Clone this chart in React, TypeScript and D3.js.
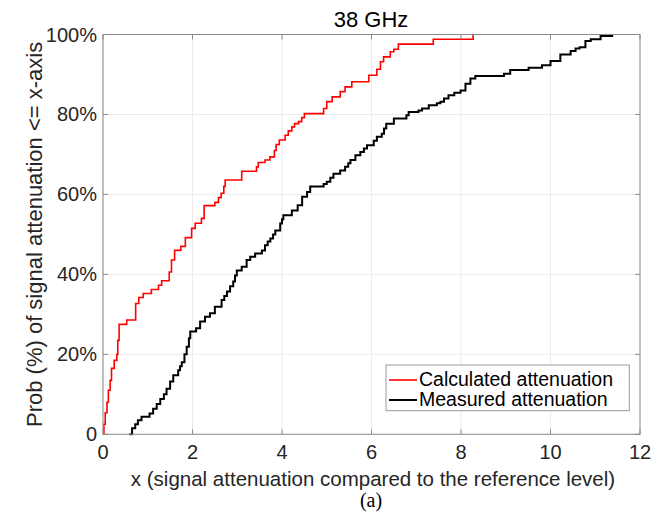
import React from "react";
import * as d3 from "d3";

const calcX = [0, 0.02, 0.05, 0.09, 0.12, 0.16, 0.19, 0.25, 0.31, 0.33, 0.36, 0.53, 0.73, 0.8, 0.9, 1.08, 1.24, 1.31, 1.48, 1.53, 1.6, 1.74, 1.84, 1.98, 2.06, 2.2, 2.26, 2.5, 2.58, 2.64, 2.7, 2.73, 3.1, 3.43, 3.47, 3.62, 3.73, 3.83, 3.87, 3.94, 4.07, 4.14, 4.22, 4.28, 4.37, 4.44, 4.5, 4.93, 5.0, 5.12, 5.3, 5.41, 5.56, 5.94, 6.12, 6.2, 6.27, 6.42, 6.5, 6.6, 7.38, 8.27];
const calcY = [0, 2.5, 5.4, 8, 11, 13.5, 16.5, 18.5, 20, 23.5, 27.5, 28.6, 32.7, 34.2, 35.2, 36.2, 37.3, 38.4, 40.6, 43.6, 46, 47, 49.2, 51.5, 52.8, 54, 57.2, 58, 59.2, 60.3, 62, 63.6, 65.8, 66.9, 68, 68.6, 69.4, 71, 72.5, 73.6, 74.8, 75.9, 76.9, 77.7, 78.2, 79.2, 80.2, 81.5, 83.2, 84.4, 85.7, 86.9, 88.2, 89.8, 91.3, 93.2, 94.4, 95.7, 96.3, 97.6, 98.8, 100];

const measX = [0.59, 0.65, 0.72, 0.78, 0.86, 1.04, 1.12, 1.2, 1.28, 1.36, 1.42, 1.5, 1.57, 1.68, 1.72, 1.76, 1.82, 1.87, 1.92, 1.95, 2.08, 2.17, 2.28, 2.39, 2.5, 2.65, 2.71, 2.77, 2.84, 2.91, 2.95, 2.99, 3.1, 3.21, 3.29, 3.4, 3.55, 3.62, 3.68, 3.74, 3.8, 3.85, 3.96, 4.0, 4.03, 4.22, 4.35, 4.45, 4.56, 4.63, 4.93, 5.0, 5.08, 5.15, 5.3, 5.41, 5.48, 5.53, 5.64, 5.75, 5.83, 5.9, 6.05, 6.12, 6.23, 6.28, 6.33, 6.5, 6.78, 6.83, 7.05, 7.13, 7.28, 7.46, 7.54, 7.62, 7.72, 7.85, 7.99, 8.1, 8.21, 8.32, 8.96, 9.1, 9.51, 9.81, 10.0, 10.22, 10.45, 10.56, 10.65, 10.78, 10.9, 11.12, 11.4];
const measY = [0, 1.5, 2.5, 3.5, 4.4, 5.2, 6.4, 7.6, 8.8, 10, 11.4, 13.2, 14.8, 16, 17, 18, 20, 21.9, 24, 25.7, 26.5, 28.2, 29.4, 30.3, 31.9, 33.6, 34.6, 35.7, 37, 38.2, 39.7, 41, 41.9, 43.6, 44.4, 45.2, 46, 47.3, 48.2, 49, 50, 51, 52.7, 53.8, 54.8, 56, 57.3, 59.4, 60.6, 62, 62.6, 63.2, 64.2, 65.2, 66, 66.9, 67.8, 68.6, 69.8, 70.6, 71.5, 72.3, 73.4, 74.4, 75.2, 76.5, 77.7, 79, 79.8, 80.6, 81, 81.5, 82.3, 82.8, 83.2, 84, 84.8, 85.4, 86, 87.7, 89, 89.6, 90.2, 91.1, 91.7, 92.3, 93.4, 95, 95.9, 96.5, 96.8, 98.4, 98.8, 99.6, 99.6];

const xTicks = [0, 2, 4, 6, 8, 10, 12];
const yTicks = [0, 20, 40, 60, 80, 100];
const yTickLabels = ["0", "20%", "40%", "60%", "80%", "100%"];
const seriesNames = ["Calculated attenuation", "Measured attenuation"];
const seriesColors = ["#ff0000", "#000000"];
const titleText = "38 GHz";
const xLabel = "x (signal attenuation compared to the reference level)";
const yLabel = "Prob (%) of signal attenuation <= x-axis";
const caption = "(a)";

const W = 668, H = 515;
const L = 103, R = 640, T = 34.5, B = 434.3;
const font = "'Liberation Sans', Arial, Helvetica, sans-serif";

export default function App() {
  const x = d3.scaleLinear().domain([0, 12]).range([L, R]);
  const y = d3.scaleLinear().domain([0, 100]).range([B, T]);
  const line = d3.line<[number, number]>().x(d => x(d[0])).y(d => y(d[1])).curve(d3.curveStepAfter);
  const calcPts: [number, number][] = calcX.map((v, i) => [v, calcY[i]]);
  const measPts: [number, number][] = measX.map((v, i) => [v, measY[i]]);
  const txt = "#262626";
  const axisCol = "#8c8c8c";
  const rowY = [378.5, 398.5];
  return (
    <svg width={W} height={H} style={{ position: "absolute", left: 0, top: 0, background: "#fff" }} fontFamily={font}>
      <rect x={0} y={0} width={W} height={H} fill="#fff" />
      {xTicks.map(t => (
        <line key={"gx" + t} x1={x(t)} x2={x(t)} y1={T} y2={B} stroke="#ebebeb" strokeWidth={1} />
      ))}
      {yTicks.map(t => (
        <line key={"gy" + t} x1={L} x2={R} y1={y(t)} y2={y(t)} stroke="#ebebeb" strokeWidth={1} />
      ))}
      <path d={line(measPts) || ""} fill="none" stroke={seriesColors[1]} strokeWidth={2} />
      <path d={line(calcPts) || ""} fill="none" stroke={seriesColors[0]} strokeWidth={1.6} />
      <rect x={L} y={T} width={R - L} height={B - T} fill="none" stroke={axisCol} strokeWidth={1} />
      {xTicks.map(t => (
        <g key={"tx" + t}>
          <line x1={x(t)} x2={x(t)} y1={B} y2={B - 5} stroke={axisCol} />
          <line x1={x(t)} x2={x(t)} y1={T} y2={T + 5} stroke={axisCol} />
          <text x={x(t)} y={B + 25} textAnchor="middle" fontSize={20} fill={txt}>{t}</text>
        </g>
      ))}
      {yTicks.map((t, i) => (
        <g key={"ty" + t}>
          <line x1={L} x2={L + 5} y1={y(t)} y2={y(t)} stroke={axisCol} />
          <line x1={R} x2={R - 5} y1={y(t)} y2={y(t)} stroke={axisCol} />
          <text x={L - 6} y={y(t) + 7} textAnchor="end" fontSize={20} fill={txt}>{yTickLabels[i]}</text>
        </g>
      ))}
      <text x={371} y={27} textAnchor="middle" fontSize={22} fill="#000">{titleText}</text>
      <text x={373} y={486} textAnchor="middle" fontSize={20.5} fill={txt}>{xLabel}</text>
      <text transform={`translate(42,${(T + B) / 2}) rotate(-90)`} textAnchor="middle" fontSize={22} fill={txt}>{yLabel}</text>
      <text x={371} y={507} textAnchor="middle" fontSize={20} fontFamily="'Liberation Serif', 'Times New Roman', serif" fill="#000">{caption}</text>
      <g>
        <rect x={386} y={365} width={243.3} height={45.7} fill="#fff" stroke="#999" strokeWidth={1} />
        {seriesNames.map((n, i) => (
          <g key={n}>
            <line x1={389} x2={417} y1={rowY[i] + 1.5} y2={rowY[i] + 1.5} stroke={seriesColors[i]} strokeWidth={i === 0 ? 1.6 : 2} />
            <text x={419} y={rowY[i] + 7.5} fontSize={19.5} fill="#000">{n}</text>
          </g>
        ))}
      </g>
    </svg>
  );
}
